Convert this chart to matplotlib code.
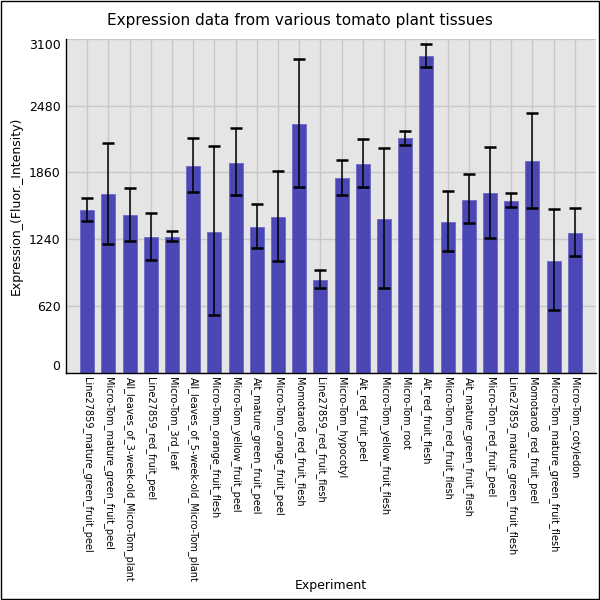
import numpy as np
import matplotlib
matplotlib.use("Agg")
import matplotlib.pyplot as plt
from matplotlib.patches import Rectangle

# tissue names, in plotting order
tissues = [
    "Line27859_mature_green_fruit_peel",
    "Micro-Tom_mature_green_fruit_peel",
    "All_leaves_of_3-week-old_Micro-Tom_plant",
    "Line27859_red_fruit_peel",
    "Micro-Tom_3rd_leaf",
    "All_leaves_of_5-week-old_Micro-Tom_plant",
    "Micro-Tom_orange_fruit_flesh",
    "Micro-Tom_yellow_fruit_peel",
    "Ait_mature_green_fruit_peel",
    "Micro-Tom_orange_fruit_peel",
    "Momotaro8_red_fruit_flesh",
    "Line27859_red_fruit_flesh",
    "Micro-Tom_hypocotyl",
    "Ait_red_fruit_peel",
    "Micro-Tom_yellow_fruit_flesh",
    "Micro-Tom_root",
    "Ait_red_fruit_flesh",
    "Micro-Tom_red_fruit_flesh",
    "Ait_mature_green_fruit_flesh",
    "Micro-Tom_red_fruit_peel",
    "Line27859_mature_green_fruit_flesh",
    "Momotaro8_red_fruit_peel",
    "Micro-Tom_mature_green_fruit_flesh",
    "Micro-Tom_cotyledon",
]

# mean expression
expr = [1513, 1661, 1467, 1263, 1263, 1920, 1309, 1948, 1356, 1448, 2309, 865,
        1809, 1939, 1430, 2179, 2938, 1402, 1606, 1670, 1596, 1967, 1041, 1300]
# error bar ends
err_lo = [1405, 1192, 1226, 1050, 1220, 1677, 532, 1652, 1155, 1038, 1726, 785,
          1655, 1723, 785, 2115, 2843, 1134, 1390, 1254, 1535, 1532, 582, 1087]
err_hi = [1627, 2136, 1717, 1485, 1316, 2176, 2105, 2269, 1569, 1871, 2917, 958,
          1976, 2170, 2084, 2247, 3052, 1689, 1843, 2099, 1667, 2411, 1519, 1529]

yticks = [0, 620, 1240, 1860, 2480, 3100]

expr = np.array(expr)
yerr = [expr - np.array(err_lo), np.array(err_hi) - expr]
xpos = np.arange(len(tissues))

fig = plt.figure(figsize=(6, 6), dpi=100)
ax = fig.add_axes([0.11, 0.379, 0.8833, 0.556])
ax.set_facecolor("#e5e5e5")

ax.bar(xpos, expr, width=0.66, color="#4b47b4", edgecolor="#6b68c4",
       linewidth=0.6, zorder=2)
ax.errorbar(xpos, expr, yerr=yerr, fmt="none", ecolor="black", elinewidth=1.1,
            capsize=4.5, capthick=1.8, zorder=3)

ax.set_xlim(-1, len(tissues))
ax.set_ylim(0, 3100)
ax.set_xticks(xpos)
ax.set_xticklabels(tissues, rotation=270, fontsize=7, va="top", ha="center")
ax.set_yticks(yticks)
ax.set_yticklabels([str(v) for v in yticks], fontsize=9)
# the end labels sit inside the axis range
ylabs = ax.get_yticklabels()
ylabs[0].set_va("bottom")
ylabs[-1].set_va("top")
ax.tick_params(axis="both", length=0)
ax.tick_params(axis="y", pad=4)
ax.tick_params(axis="x", pad=3)

ax.grid(True, color="#c8c8c8", linewidth=1)
ax.set_axisbelow(True)
for side in ["top", "right"]:
    ax.spines[side].set_visible(False)
ax.spines["left"].set_linewidth(1)
ax.spines["bottom"].set_linewidth(1)

ax.set_ylabel("Expression_(Fluor._Intensity)", fontsize=9, labelpad=4)
ax.set_xlabel("Experiment", fontsize=9)
ax.xaxis.set_label_coords(0.5, -0.619)

fig.text(0.5, 0.965, "Expression data from various tomato plant tissues",
         ha="center", va="center", fontsize=11)

# thin black frame round the whole picture
fig.patches.append(Rectangle((0.001, 0.001), 0.997, 0.997, transform=fig.transFigure,
                             fill=False, edgecolor="black", linewidth=1))

fig.savefig("out.png", dpi=100)
